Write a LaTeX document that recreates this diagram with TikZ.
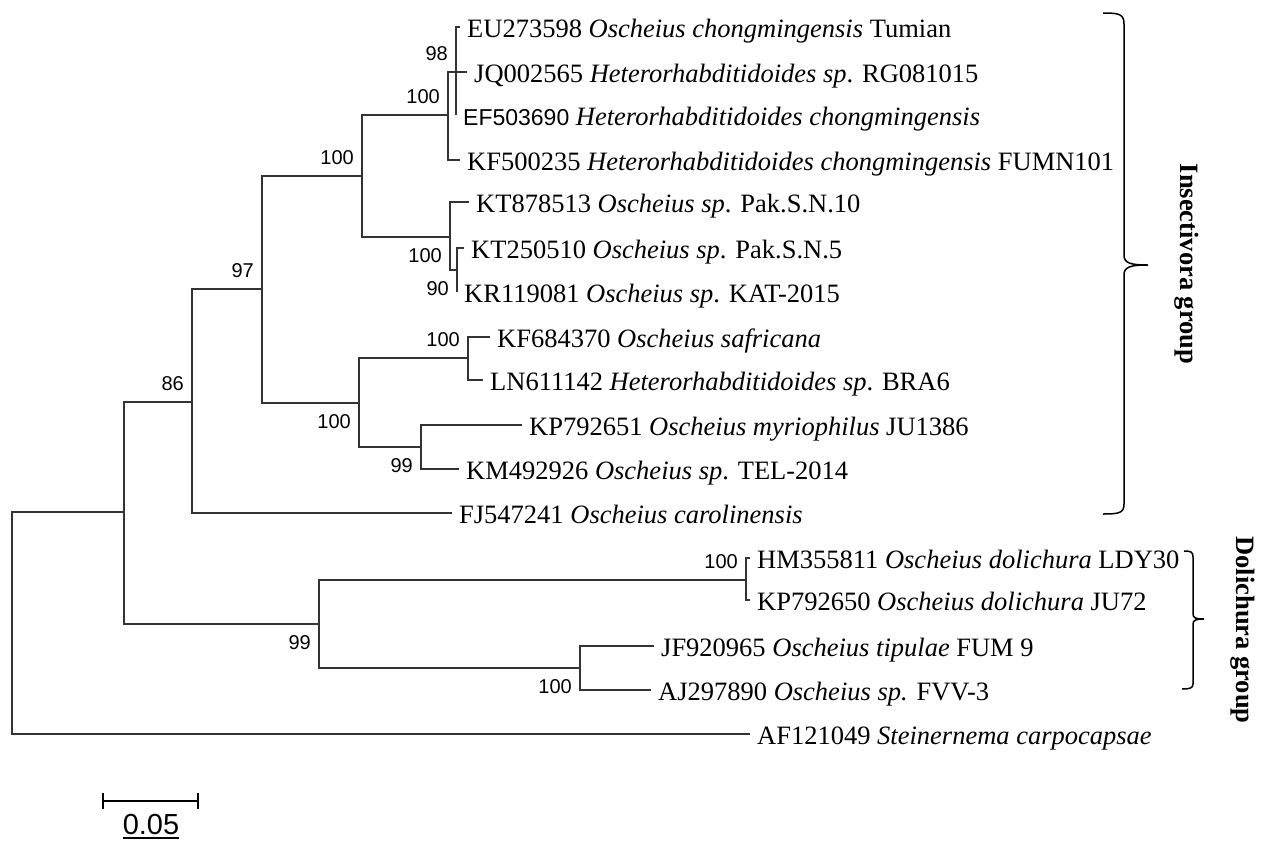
\documentclass[tikz,border=0pt]{standalone}
\usepackage{fontspec}
\setmainfont{Liberation Serif}
\newfontfamily\arialfont{Liberation Sans}
\newcommand{\leaffont}{\fontsize{26.5}{30}\selectfont}
\newcommand{\bootfont}{\arialfont\fontsize{20}{22}\selectfont}
\tikzset{
  branch/.style={line width=1.2pt, black!80},
  leaf/.style={anchor=west, inner xsep=7pt, inner ysep=0pt, text height=20pt, text depth=0pt, font=\leaffont},
  bootup/.style={anchor=south east, inner sep=0pt, xshift=-8pt, yshift=11pt, font=\bootfont},
  bootdown/.style={anchor=north east, inner sep=0pt, xshift=-8pt, yshift=-11pt, font=\bootfont},
  group/.style={rotate=-90, inner sep=0pt, font=\leaffont\bfseries},
  bracket/.style={line width=1.5pt}
}

\begin{document}
\begin{tikzpicture}[x=1pt, y=-1pt]
    \useasboundingbox (0,0) rectangle (1270,841);

    % internal nodes
    \coordinate (root) at (12,623);
    \coordinate (nA) at (124,512);
    \coordinate (n86) at (192,402);
    \coordinate (n97) at (262,289);
    \coordinate (n100a) at (362,176);
    \coordinate (n100b) at (448,115);
    \coordinate (n98) at (456,72);
    \coordinate (n100c) at (450,237);
    \coordinate (n90) at (457,270);
    \coordinate (n100d) at (359,403);
    \coordinate (n100e) at (468,358);
    \coordinate (n99a) at (421,447);
    \coordinate (n99b) at (319,624);
    \coordinate (n100f) at (746,580);
    \coordinate (n100g) at (580,668);

    % leaves
    \node[leaf] (EU) at (460,27) {EU273598 \textit{Oscheius chongmingensis} Tumian};
    \node[leaf] (JQ) at (467,72) {JQ002565 \textit{Heterorhabditidoides sp}. RG081015};
    \node[leaf] (EF) at (456,115) {{\arialfont\fontsize{23}{26}\selectfont EF503690} \textit{Heterorhabditidoides chongmingensis}};
    \node[leaf] (KFa) at (460,160) {KF500235 \textit{Heterorhabditidoides chongmingensis} FUMN101};
    \node[leaf] (KTa) at (469,202) {KT878513 \textit{Oscheius sp}. Pak.S.N.10};
    \node[leaf] (KTb) at (464,248) {KT250510 \textit{Oscheius sp}. Pak.S.N.5};
    \node[leaf] (KR) at (457,292) {KR119081 \textit{Oscheius sp}. KAT-2015};
    \node[leaf] (KFb) at (490,337) {KF684370 \textit{Oscheius safricana}};
    \node[leaf] (LN) at (483,380) {LN611142 \textit{Heterorhabditidoides sp}. BRA6};
    \node[leaf] (KPa) at (522,425) {KP792651 \textit{Oscheius myriophilus} JU1386};
    \node[leaf] (KM) at (459,469) {KM492926 \textit{Oscheius sp}. TEL-2014};
    \node[leaf] (FJ) at (452,513) {FJ547241 \textit{Oscheius carolinensis}};
    \node[leaf] (HM) at (750,558) {HM355811 \textit{Oscheius dolichura} LDY30};
    \node[leaf] (KPb) at (750,600) {KP792650 \textit{Oscheius dolichura} JU72};
    \node[leaf] (JF) at (654,646) {JF920965 \textit{Oscheius tipulae} FUM 9};
    \node[leaf] (AJ) at (651,690) {AJ297890 \textit{Oscheius sp.} FVV-3};
    \node[leaf] (AF) at (750,734) {AF121049 \textit{Steinernema carpocapsae}};

    % branches
    \draw[branch] (root) |- (nA);
    \draw[branch] (root) |- (AF.west);
    \draw[branch] (nA) |- (n86);
    \draw[branch] (nA) |- (n99b);
    \draw[branch] (n86) |- (n97);
    \draw[branch] (n86) |- (FJ.west);
    \draw[branch] (n97) |- (n100a);
    \draw[branch] (n97) |- (n100d);
    \draw[branch] (n100a) |- (n100b);
    \draw[branch] (n100a) |- (n100c);
    \draw[branch] (n100b) |- (n98);
    \draw[branch] (n100b) |- (KFa.west);
    \draw[branch] (n98) |- (EU.west);
    \draw[branch] (n98) |- (JQ.west);
    \draw[branch] (n98) |- (EF.west);
    \draw[branch] (n100c) |- (KTa.west);
    \draw[branch] (n100c) |- (n90);
    \draw[branch] (n90) |- (KTb.west);
    \draw[branch] (n90) |- (KR.west);
    \draw[branch] (n100d) |- (n100e);
    \draw[branch] (n100d) |- (n99a);
    \draw[branch] (n100e) |- (KFb.west);
    \draw[branch] (n100e) |- (LN.west);
    \draw[branch] (n99a) |- (KPa.west);
    \draw[branch] (n99a) |- (KM.west);
    \draw[branch] (n99b) |- (n100f);
    \draw[branch] (n99b) |- (n100g);
    \draw[branch] (n100f) |- (HM.west);
    \draw[branch] (n100f) |- (KPb.west);
    \draw[branch] (n100g) |- (JF.west);
    \draw[branch] (n100g) |- (AJ.west);

    % bootstrap values
    \node[bootup] (b86) at (n86) {86};
    \node[bootup] (b97) at (n97) {97};
    \node[bootup] (b100a) at (n100a) {100};
    \node[bootup] (b100b) at (n100b) {100};
    \node[bootup] (b98) at (n98) {98};
    \node[bootdown] (b100c) at (n100c) {100};
    \node[bootdown] (b90) at (n90) {90};
    \node[bootdown] (b100d) at (n100d) {100};
    \node[bootup] (b100e) at (n100e) {100};
    \node[bootdown] (b99a) at (n99a) {99};
    \node[bootdown] (b99b) at (n99b) {99};
    \node[bootup] (b100f) at (n100f) {100};
    \node[bootdown] (b100g) at (n100g) {100};

    % group brackets
    \draw[bracket] (1103,13) .. controls (1119,13) and (1124,14) .. (1124,24) -- (1124,255)
        .. controls (1124,263) and (1130,265) .. (1148,265)
        .. controls (1130,265) and (1124,267) .. (1124,275) -- (1124,504)
        .. controls (1124,513) and (1119,514) .. (1103,514);
    \draw[bracket] (1184,551) .. controls (1191,551) and (1193,552) .. (1193,557) -- (1193,614)
        .. controls (1193,618) and (1196,619) .. (1204,619)
        .. controls (1196,619) and (1193,620) .. (1193,624) -- (1193,684)
        .. controls (1193,688) and (1190,689) .. (1182,689);
    \node[group] (insect) at (1187,264) {Insectivora group};
    \node[group] (dolich) at (1243,630) {Dolichura group};

    % scale bar
    \coordinate (sbl) at (103,801);
    \coordinate (sbr) at (198,801);
    \draw[line width=1.2pt] (sbl) -- (sbr);
    \draw[line width=1.2pt] ([yshift=8pt]sbl) -- ([yshift=-8pt]sbl);
    \draw[line width=1.2pt] ([yshift=8pt]sbr) -- ([yshift=-8pt]sbr);
    \node[inner sep=0pt, anchor=base, font=\arialfont\fontsize{29}{32}\selectfont] (scale) at (151,834) {0.05};
    \draw[line width=2.5pt] ([yshift=-4pt]scale.base west) -- ([yshift=-4pt]scale.base east);
\end{tikzpicture}
\end{document}
